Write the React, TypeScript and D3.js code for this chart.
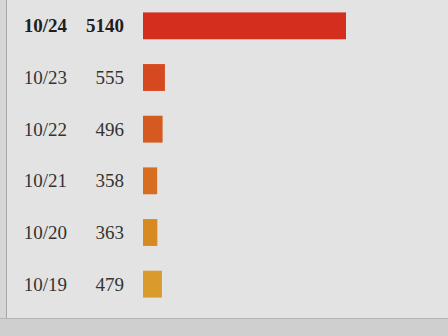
import React from "react";
import * as d3 from "d3";

const dates = ["10/24", "10/23", "10/22", "10/21", "10/20", "10/19"];
const values = [5140, 555, 496, 358, 363, 479];
const colors = ["#d42e1e", "#d6481f", "#d55a1f", "#d66d1f", "#d88a22", "#d99c2c"];

export default function App() {
  const W = 448, H = 336;
  const y = d3.scaleBand<string>().domain(dates).range([0, 310]).paddingInner(0.48).paddingOuter(0.24);
  const x = d3.scaleLinear().domain([0, 5140]).range([0, 203]);
  const x0 = 143;
  return (
    <svg width={W} height={H} style={{ position: "fixed", left: 0, top: 0, background: "#e3e3e3" }}
      fontFamily="'Liberation Serif', 'DejaVu Serif', serif">
      <rect x={0} y={0} width={W} height={H} fill="#e3e3e3" />
      <rect x={0} y={0} width={6} height={H} fill="#d6d6d6" />
      <line x1={6.5} y1={0} x2={6.5} y2={318} stroke="#a8a8a8" strokeWidth={1} />
      <rect x={0} y={318} width={W} height={H - 318} fill="#cfcfcf" />
      <line x1={0} y1={318.5} x2={W} y2={318.5} stroke="#b5b5b5" />
      {dates.map((d, i) => {
        const yy = y(d)!;
        const cy = yy + y.bandwidth() / 2;
        return (
          <g key={d}>
            <rect x={x0} y={yy} width={x(values[i])} height={y.bandwidth()} fill={colors[i]} />
            <text x={67} y={cy} dy="0.35em" textAnchor="end" fontSize={19}
              fill={i === 0 ? "#1e1e1e" : "#333"} fontWeight={i === 0 ? "bold" : "normal"}>{d}</text>
            <text x={124} y={cy} dy="0.35em" textAnchor="end" fontSize={19}
              fill={i === 0 ? "#1e1e1e" : "#333"} fontWeight={i === 0 ? "bold" : "normal"}>{values[i]}</text>
          </g>
        );
      })}
    </svg>
  );
}
